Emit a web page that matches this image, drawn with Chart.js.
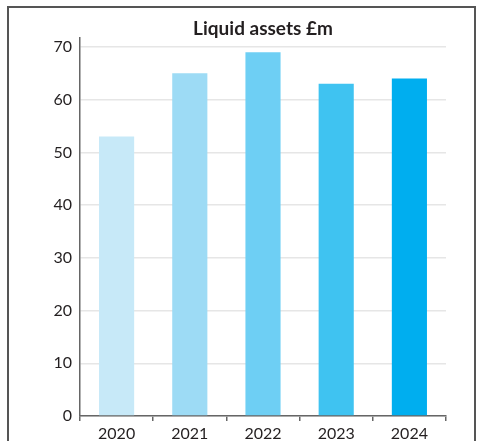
<!DOCTYPE html>
<html>
<head>
<meta charset="utf-8">
<script src="https://cdn.jsdelivr.net/npm/chart.js@4"></script>
<style>
  html, body { margin: 0; padding: 0; background: #fff; }
  #frame {
    position: absolute;
    left: 7px;
    top: 6px;
    width: 465px;
    height: 450px;
    border: 2px solid #555;
  }
  #chart { display: block; }
</style>
</head>
<body>
<div id="frame"><canvas id="chart" width="465" height="440"></canvas></div>
<script>
// Chart data
const years = ['2020', '2021', '2022', '2023', '2024'];
const liquidAssets = [53, 65, 69, 63, 64];
const barColours = ['#c7e9f8', '#9ddbf5', '#6ecff4', '#3fc3f1', '#00aeef'];
const yTicks = [0, 10, 20, 30, 40, 50, 60, 70];

const fontFamily = 'Lato, "Open Sans", sans-serif';
const gridColour = '#e6e6e6';

new Chart(document.getElementById('chart').getContext('2d'), {
  type: 'bar',
  data: {
    labels: years,
    datasets: [{
      data: liquidAssets,
      backgroundColor: barColours,
      barPercentage: 0.48,
      categoryPercentage: 1
    }]
  },
  options: {
    responsive: false,
    animation: false,
    layout: { padding: { left: 0, right: 28, top: 0, bottom: 6 } },
    plugins: {
      legend: { display: false },
      tooltip: { enabled: false },
      title: {
        display: true,
        text: 'Liquid assets £m',
        fullSize: false,
        color: '#231f20',
        font: { family: fontFamily, size: 19, weight: 'bold', lineHeight: 1 },
        padding: { top: 11, bottom: 0 }
      }
    },
    scales: {
      x: {
        afterFit: scale => { scale.height = 26; },
        grid: {
          display: true,
          drawOnChartArea: false,
          drawTicks: true,
          tickLength: 5,
          color: '#666',
          lineWidth: 1.5,
          offset: true
        },
        border: { color: '#666', width: 1.5 },
        ticks: {
          color: '#231f20',
          padding: 3,
          font: { family: fontFamily, size: 16 }
        }
      },
      y: {
        min: 0,
        max: 71.7,
        afterFit: scale => { scale.width = 71; },
        afterBuildTicks: scale => {
          scale.ticks = yTicks.map(v => ({ value: v }));
        },
        grid: {
          color: gridColour,
          lineWidth: 1.5,
          drawTicks: false
        },
        border: { color: '#666', width: 1.5 },
        ticks: {
          color: '#231f20',
          padding: 8,
          font: { family: fontFamily, size: 16 }
        }
      }
    }
  }
});
</script>
</body>
</html>
